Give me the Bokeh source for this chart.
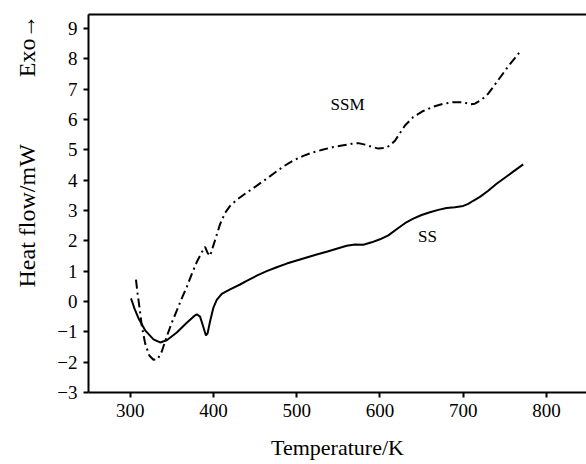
from bokeh.plotting import figure
from bokeh.models import FixedTicker, LinearAxis, Range1d, Label, Title
from bokeh.embed import file_html
from bokeh.resources import INLINE

# ---- data ----
ss_temp = [301, 303, 305, 310, 318, 328, 336, 344, 356, 368, 376, 380, 384, 388, 391, 393, 396, 400,
           404, 410, 420, 432, 440, 452, 464, 476, 488, 500, 512, 524, 536, 548, 560, 570, 580, 590,
           600, 610, 620, 630, 640, 650, 660, 670, 680, 690, 700, 706, 712, 720, 730, 740, 750, 760, 772]
ss_heat = [0.10, -0.05, -0.22, -0.55, -0.95, -1.25, -1.35, -1.28, -1.02, -0.70, -0.50, -0.42, -0.50,
           -0.85, -1.12, -1.05, -0.65, -0.20, 0.05, 0.25, 0.40, 0.56, 0.68, 0.85, 1.00, 1.13, 1.25,
           1.35, 1.45, 1.55, 1.64, 1.74, 1.84, 1.88, 1.87, 1.95, 2.05, 2.18, 2.38, 2.58, 2.73, 2.85,
           2.94, 3.02, 3.08, 3.11, 3.15, 3.22, 3.32, 3.45, 3.65, 3.88, 4.08, 4.28, 4.52]

ssm_temp = [307, 309, 311, 314, 318, 323, 328, 333, 338, 344, 350, 356, 362, 368, 374, 380, 386, 390,
            393, 396, 400, 404, 408, 414, 420, 428, 438, 448, 460, 472, 484, 496, 508, 520, 532, 544,
            556, 566, 574, 582, 590, 598, 606, 612, 618, 624, 630, 640, 652, 664, 676, 688, 700, 708,
            714, 722, 730, 738, 746, 754, 762, 770]
ssm_heat = [0.72, 0.25, -0.15, -0.80, -1.38, -1.78, -1.92, -1.90, -1.65, -1.15, -0.70, -0.30, 0.10,
            0.48, 0.90, 1.30, 1.62, 1.80, 1.60, 1.50, 1.85, 2.20, 2.55, 2.92, 3.15, 3.35, 3.55, 3.74,
            3.97, 4.21, 4.45, 4.65, 4.80, 4.92, 5.01, 5.09, 5.15, 5.20, 5.22, 5.17, 5.10, 5.04, 5.06,
            5.14, 5.30, 5.55, 5.80, 6.08, 6.28, 6.42, 6.52, 6.57, 6.57, 6.50, 6.52, 6.65, 6.85, 7.15,
            7.45, 7.75, 8.02, 8.30]

x_ticks = [300, 400, 500, 600, 700, 800]
y_ticks = [-3, -2, -1, 0, 1, 2, 3, 4, 5, 6, 7, 8, 9]
y_tick_labels = ["\u22123", "\u22122", "\u22121", "0", "1", "2", "3", "4", "5", "6", "7", "8", "9"]

x_label = "Temperature/K"
y_label = "Heat flow/mW"
exo_label = "Exo\u2192"
series_names = ["SSM", "SS"]

FONT = "Liberation Serif"

p = figure(width=586, height=464, output_backend="svg", toolbar_location=None,
           x_range=Range1d(250, 848), y_range=Range1d(-3, 9.46),
           min_border_left=88, min_border_right=0, min_border_top=14, min_border_bottom=72)
p.outline_line_color = None
p.xgrid.visible = False
p.ygrid.visible = False
p.background_fill_color = "white"
p.border_fill_color = "white"

for ax in (p.xaxis[0], p.yaxis[0]):
    ax.axis_line_width = 2
    ax.axis_line_color = "black"
    ax.major_tick_line_width = 2
    ax.major_tick_line_color = "black"
    ax.major_tick_in = 0
    ax.major_tick_out = 5
    ax.minor_tick_line_color = None
    ax.major_label_text_font = FONT
    ax.major_label_text_font_size = "19px"
    ax.major_label_text_color = "black"
    ax.major_label_standoff = 6

p.xaxis.ticker = FixedTicker(ticks=x_ticks)
p.yaxis.ticker = FixedTicker(ticks=y_ticks)
p.yaxis.major_label_overrides = {t: s for t, s in zip(y_ticks, y_tick_labels)}

p.xaxis.axis_label = x_label
p.xaxis.axis_label_text_font = FONT
p.xaxis.axis_label_text_font_style = "normal"
p.xaxis.axis_label_text_color = "black"
p.xaxis.axis_label_text_font_size = "22px"
p.xaxis.axis_label_standoff = 15

top = LinearAxis(ticker=FixedTicker(ticks=[]), axis_line_width=2, axis_line_color="black",
                 major_tick_line_color=None, minor_tick_line_color=None,
                 major_label_text_font_size="0px")
p.add_layout(top, "above")

# vertical titles on the left: "Heat flow/mW" and, above it in the same column, "Exo→"
heat_title = Title(text=y_label, align="left", offset=105, standoff=26, vertical_align="top",
                   text_font=FONT, text_font_size="24px", text_font_style="normal",
                   text_color="black")
p.add_layout(heat_title, "left")
exo_title = Title(text=exo_label, align="right", offset=0, standoff=-79, vertical_align="bottom",
                  text_font=FONT, text_font_size="24px", text_font_style="normal",
                  text_color="black")
p.add_layout(exo_title, "left")

p.line(ssm_temp, ssm_heat, line_color="black", line_width=2, line_dash="9 4 2 4")
p.line(ss_temp, ss_heat, line_color="black", line_width=2)

p.add_layout(Label(x=561, y=6.48, text=series_names[0], text_font=FONT, text_font_size="17px",
                   text_align="center", text_baseline="middle", text_color="black"))
p.add_layout(Label(x=657, y=2.14, text=series_names[1], text_font=FONT, text_font_size="17px",
                   text_align="center", text_baseline="middle", text_color="black"))

open("out.html", "w").write(file_html(p, INLINE))
